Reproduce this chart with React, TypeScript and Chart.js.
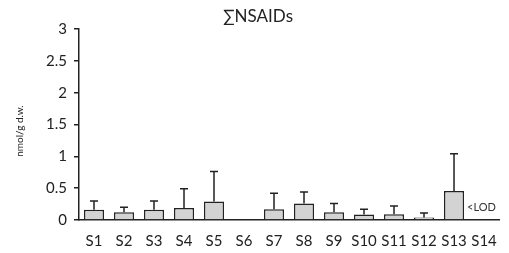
import React, { useEffect, useRef } from "react";
import { Chart, registerables } from "chart.js";

Chart.register(...registerables);

const categories = ["S1", "S2", "S3", "S4", "S5", "S6", "S7", "S8", "S9", "S10", "S11", "S12", "S13", "S14"];
const means: (number | null)[] = [0.16, 0.12, 0.16, 0.19, 0.29, 0, 0.17, 0.26, 0.12, 0.085, 0.09, 0.04, 0.455, null];
const errors: (number | null)[] = [0.14, 0.08, 0.14, 0.3, 0.47, null, 0.25, 0.18, 0.14, 0.085, 0.13, 0.07, 0.585, null];
const yTicks = [0, 0.5, 1, 1.5, 2, 2.5, 3];
const title = "∑NSAIDs";
const yLabel = "nmol/g d.w.";
const lodLabel = "<LOD";
const FONT = "Lato, 'Open Sans', sans-serif";

const overlay = {
  id: "overlay",
  afterDatasetsDraw(chart: any) {
    const ctx = chart.ctx;
    const meta = chart.getDatasetMeta(0);
    const y = chart.scales.y;
    ctx.save();
    ctx.strokeStyle = "#222";
    ctx.lineWidth = 1.5;
    means.forEach((m, i) => {
      const e = errors[i];
      if (m == null || e == null) return;
      const bar = meta.data[i];
      const x = bar.x;
      const y0 = y.getPixelForValue(m);
      const y1 = y.getPixelForValue(m + e);
      ctx.beginPath();
      ctx.moveTo(x, y0);
      ctx.lineTo(x, y1);
      ctx.moveTo(x - 4, y1);
      ctx.lineTo(x + 4, y1);
      ctx.stroke();
    });
    // LOD label next to S13 bar
    const b13 = meta.data[12];
    ctx.fillStyle = "#333";
    ctx.font = `11px ${FONT}`;
    ctx.textAlign = "left";
    ctx.textBaseline = "middle";
    ctx.fillText(lodLabel, b13.x + b13.width / 2 + 3, 207);
    // title
    ctx.font = `17px ${FONT}`;
    ctx.textAlign = "center";
    ctx.fillStyle = "#222";
    ctx.fillText(title, 258, 17);
    // y label
    ctx.translate(20, 131);
    ctx.rotate(-Math.PI / 2);
    ctx.font = `10px ${FONT}`;
    ctx.fillText(yLabel, 0, 0);
    ctx.restore();
  },
};

export default function App() {
  const ref = useRef<HTMLCanvasElement>(null);
  useEffect(() => {
    document.body.style.margin = "0";
    const chart = new Chart(ref.current!, {
      type: "bar",
      data: {
        labels: categories,
        datasets: [
          {
            data: means,
            backgroundColor: "#d3d3d3",
            borderColor: "#222",
            borderWidth: 1.5,
            barPercentage: 0.67,
            categoryPercentage: 1,
          },
        ],
      },
      options: {
        animation: false,
        responsive: false,
        maintainAspectRatio: false,
        layout: { padding: { top: 29, right: 6, left: 0, bottom: 0 } },
        plugins: { legend: { display: false }, title: { display: false }, tooltip: { enabled: false } },
        scales: {
          x: {
            grid: { display: false, drawTicks: false },
            border: { color: "#222", width: 1.5 },
            ticks: { color: "#222", font: { family: FONT, size: 15 }, padding: 12, maxRotation: 0, autoSkip: false },
            afterFit: (s: any) => { s.height = 33; },
          },
          y: {
            min: 0,
            max: 3,
            afterBuildTicks: (s: any) => { s.ticks = yTicks.map((v) => ({ value: v })); },
            grid: { drawOnChartArea: false, drawTicks: true, tickLength: 5, color: "#222", lineWidth: 1.5 },
            border: { color: "#222", width: 1.5 },
            ticks: { color: "#222", font: { family: FONT, size: 15 }, padding: 7, callback: (v: any) => String(v) },
            afterFit: (s: any) => { s.width = 79; },
          },
        },
      },
      plugins: [overlay],
    });
    return () => chart.destroy();
  }, []);
  return (
    <div style={{ position: "absolute", left: 0, top: 0, width: 509, height: 253, background: "#fff" }}>
      <canvas ref={ref} width={509} height={253} />
    </div>
  );
}
